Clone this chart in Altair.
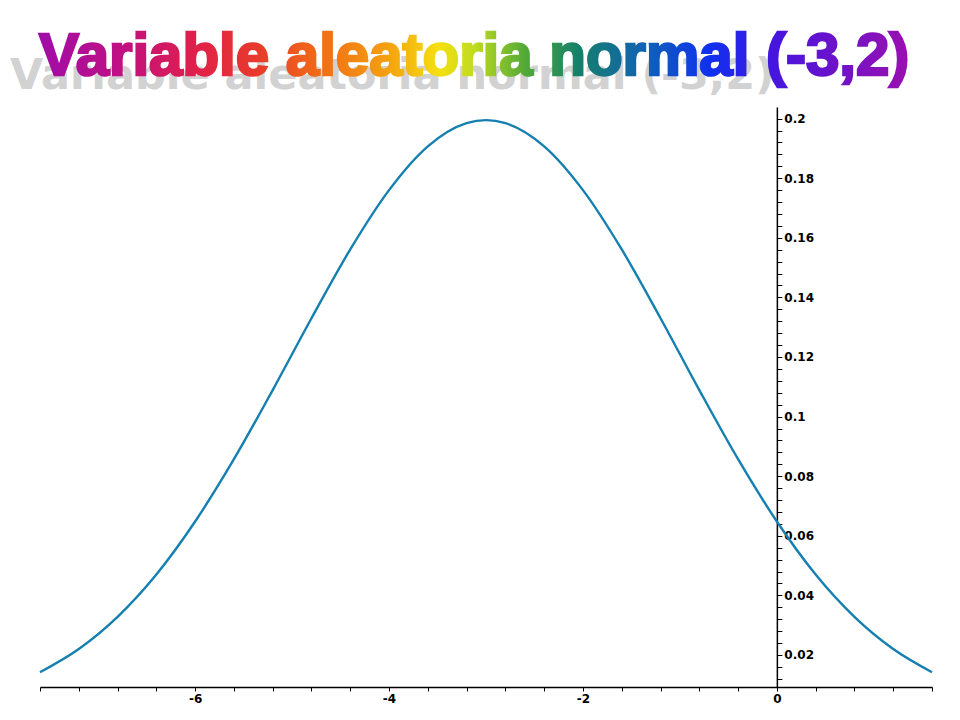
import altair as alt
import pandas as pd

# ---- data ----
title_text = "Variable aleatoria normal (-3,2)"

x_vals = [-7.6, -7.2, -6.8, -6.4, -6.0, -5.6, -5.2, -4.8, -4.4, -4.0, -3.6, -3.2, -3.0,
          -2.8, -2.4, -2.0, -1.6, -1.2, -0.8, -0.4, 0.0, 0.4, 0.8, 1.2, 1.6]
density = [0.0142, 0.0220, 0.0328, 0.0470, 0.0648, 0.0857, 0.1089, 0.1330, 0.1561, 0.1760,
           0.1907, 0.1985, 0.1995, 0.1985, 0.1907, 0.1760, 0.1561, 0.1330, 0.1089, 0.0857,
           0.0648, 0.0470, 0.0328, 0.0220, 0.0142]

x_ticks = [-7.6, -7.2, -6.8, -6.4, -6.0, -5.6, -5.2, -4.8, -4.4, -4.0, -3.6, -3.2,
           -2.8, -2.4, -2.0, -1.6, -1.2, -0.8, -0.4, 0.0, 0.4, 0.8, 1.2, 1.6]
y_ticks = [round(0.012 + 0.004 * i, 3) for i in range(48)]

x_domain = [-7.6, 1.6]
y_domain = [0.00925, 0.2039]

W, H = 892, 580

df = pd.DataFrame({"x": x_vals, "y": density})

x_scale = alt.Scale(domain=x_domain, nice=False, zero=False)
y_scale = alt.Scale(domain=y_domain, nice=False, zero=False)

y_axis_offset = -W * (x_domain[1] - 0) / (x_domain[1] - x_domain[0])

label_style = dict(labelFont="DejaVu Sans", labelFontWeight="bold", labelFontSize=12,
                   labelColor="black", labelOverlap=False, labelFlush=False)

line = alt.Chart(df).mark_line(color="#1580b0", strokeWidth=2.4, interpolate="monotone").encode(
    x=alt.X("x:Q", scale=x_scale,
            axis=alt.Axis(values=x_ticks, title=None, grid=False,
                          labelExpr="abs(datum.value/2 - round(datum.value/2)) < 0.001 ? toString(round(datum.value)) : ''",
                          domainColor="black", domainWidth=1.5, tickColor="black", tickSize=4,
                          tickWidth=1, labelPadding=2, **label_style)),
    y=alt.Y("y:Q", scale=y_scale,
            axis=alt.Axis(orient="right", offset=y_axis_offset, values=y_ticks, title=None, grid=False,
                          labelExpr="abs(datum.value*50 - round(datum.value*50)) < 0.001 ? toString(round(datum.value*100)/100) : ''",
                          domainColor="black", domainWidth=1.5, tickColor="black", tickSize=5,
                          tickWidth=1, labelPadding=2, labelBaseline="middle", **label_style)),
)

title_data = alt.Data(values=[{"t": title_text}])

shadow = alt.Chart(title_data).mark_text(
    font="DejaVu Sans", fontWeight="bold", fontSize=43, color="#d2d2d2",
    align="left", baseline="alphabetic"
).encode(x=alt.value(-30), y=alt.value(-18), text="t:N")

gradient = alt.LinearGradient(
    gradient="linear", x1=0, y1=0, x2=1, y2=0,
    stops=[
        alt.GradientStop(color="#a00ca8", offset=0.0),
        alt.GradientStop(color="#c21080", offset=0.1),
        alt.GradientStop(color="#e0204a", offset=0.18),
        alt.GradientStop(color="#e83a2c", offset=0.25),
        alt.GradientStop(color="#f06a18", offset=0.32),
        alt.GradientStop(color="#f5a010", offset=0.4),
        alt.GradientStop(color="#f5e010", offset=0.46),
        alt.GradientStop(color="#c0dc20", offset=0.5),
        alt.GradientStop(color="#50a838", offset=0.56),
        alt.GradientStop(color="#15806a", offset=0.62),
        alt.GradientStop(color="#1060b8", offset=0.7),
        alt.GradientStop(color="#1030f0", offset=0.77),
        alt.GradientStop(color="#4a14dc", offset=0.85),
        alt.GradientStop(color="#9a10b0", offset=1.0),
    ],
)

main_title = alt.Chart(title_data).mark_text(
    font="Liberation Sans", fontWeight="bold", fontSize=60, fill=gradient, stroke=gradient,
    strokeWidth=2.5, align="left", baseline="alphabetic"
).encode(x=alt.value(-1), y=alt.value(-32), text="t:N")

chart = alt.layer(shadow, main_title, line).properties(
    width=W, height=H,
    autosize=alt.AutoSizeParams(type="none"),
    padding={"left": 32, "top": 99, "right": 20, "bottom": 25},
    background="white",
).configure_view(stroke=None)

chart.save("out.html", embed_options={"renderer": "svg", "actions": False})
